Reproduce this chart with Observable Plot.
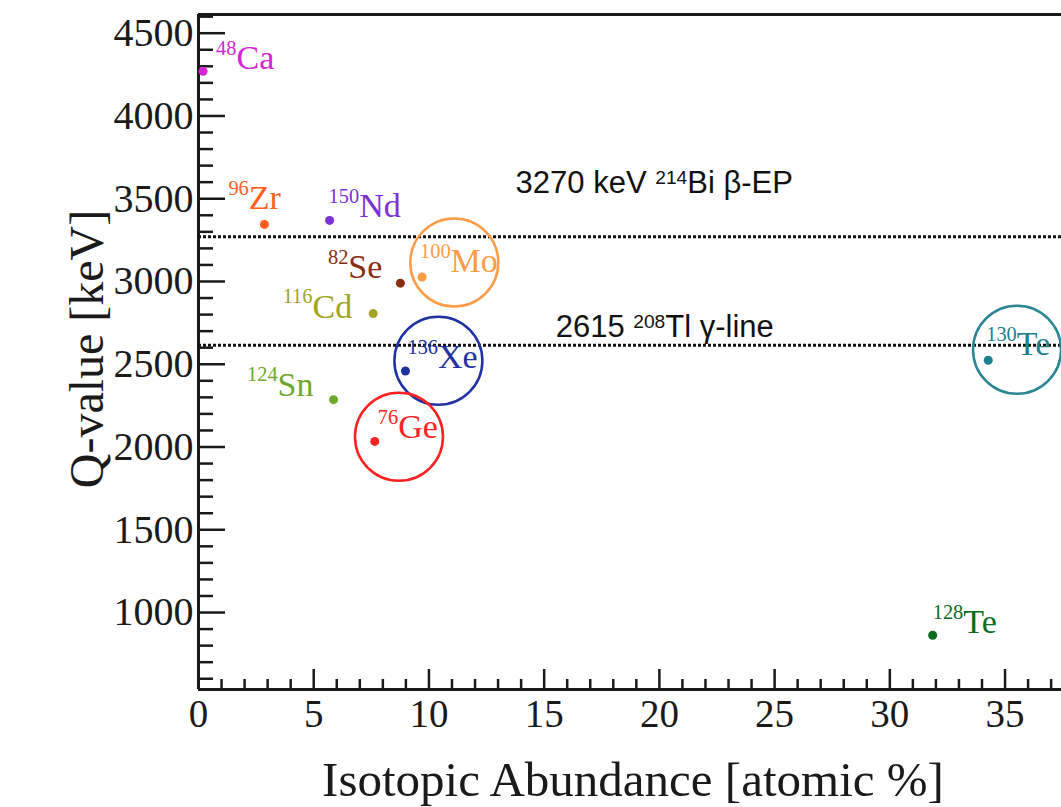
<!DOCTYPE html>
<html><head><meta charset="utf-8">
<script src="https://cdn.jsdelivr.net/npm/d3@7"></script>
<script src="https://cdn.jsdelivr.net/npm/@observablehq/plot@0.6"></script>
<style>html,body{margin:0;padding:0;background:#fff;overflow:hidden}</style>
</head><body><div id="chart"></div>
<script>
// ---- data ----
const massNumbers = [48, 96, 150, 82, 100, 116, 136, 124, 76, 130, 128];
const elements    = ["Ca", "Zr", "Nd", "Se", "Mo", "Cd", "Xe", "Sn", "Ge", "Te", "Te"];
const abundance   = [0.2, 2.86, 5.69, 8.76, 9.7, 7.58, 8.98, 5.86, 7.65, 34.27, 31.86];
const qValue      = [4270, 3345, 3369, 2990, 3027, 2806, 2459, 2286, 2034, 2524, 863];
const colors      = ["#d526d5", "#ff5f1f", "#7a32d6", "#8b2b14", "#ff9b45", "#a3a323", "#1f32a3", "#6ea82e", "#ff2222", "#1f8090", "#0b6b1e"];

const circleNames  = ["Mo", "Xe", "Ge", "Te"];
const circleX      = [11.1, 10.41, 8.7, 35.52];
const circleY      = [3115, 2521, 2062, 2587];
const circleColors = ["#ff9b45", "#1f32a3", "#ff2020", "#2a8595"];

const refLineValues = [3270, 2615];
const refLabels     = ["3270 keV ^214^Bi β-EP", "2615 ^208^Tl γ-line"];
const refLabelX     = [13.76, 15.5];
const refLabelY     = [3532, 2662];

const xMajorTicks = [0, 5, 10, 15, 20, 25, 30, 35];
const yMajorTicks = [1000, 1500, 2000, 2500, 3000, 3500, 4000, 4500];
const xDomain = [0, 37.45];
const yDomain = [535, 4613];

// label layout (pixel offsets)
const labelAnchor = ["start","start","start","end","start","end","start","end","start","start","start"];
const labelDx = [13, -36, -1, -18, -2, -21, 2, -20, 3, -2, 0];
const labelDy = [-2, -15, -3, -5, -5, 4, -3, -4, -3, -5, -2];

// ---- layout ----
const W = 1061, H = 807, mL = 198, mR = 0, mT = 14, mB = 118;
const pxX = (W - mL - mR) / (xDomain[1] - xDomain[0]);
const pxY = (H - mT - mB) / (yDomain[1] - yDomain[0]);

// ---- build ----
const points = massNumbers.map((m, i) => ({label: `^${m}^${elements[i]}`, x: abundance[i], y: qValue[i], color: colors[i]}));
const circles = circleNames.map((n, i) => ({name: n, x: circleX[i], y: circleY[i], color: circleColors[i]}));
const refs = refLabels.map((t, i) => ({text: t, x: refLabelX[i], y: refLabelY[i]}));

const yMinor = d3.range(600, 4601, 100).filter(d => d % 500 !== 0);
const xMinor = d3.range(1, 38).filter(d => d % 5 !== 0);
const axisColor = "#1a1a1a";

const svg = Plot.plot({
  width: W, height: H,
  marginLeft: mL, marginRight: mR, marginTop: mT, marginBottom: mB,
  style: {fontFamily: "'Liberation Serif', 'Times New Roman', serif", background: "#fff", color: axisColor},
  x: {domain: xDomain},
  y: {domain: yDomain},
  marks: [
    // inward tick marks
    Plot.ruleY(yMinor, {x1: xDomain[0], x2: xDomain[0] + 15 / pxX, stroke: axisColor, strokeWidth: 2.5}),
    Plot.ruleY(yMajorTicks, {x1: xDomain[0], x2: xDomain[0] + 27 / pxX, stroke: axisColor, strokeWidth: 2.5}),
    Plot.ruleX(xMinor, {y1: yDomain[0], y2: yDomain[0] + 10 / pxY, stroke: axisColor, strokeWidth: 2.5}),
    Plot.ruleX(xMajorTicks, {y1: yDomain[0], y2: yDomain[0] + 20 / pxY, stroke: axisColor, strokeWidth: 2.5}),
    // tick labels
    Plot.axisY({ticks: yMajorTicks, tickSize: 0, tickPadding: 5, fontSize: 40, label: null, tickFormat: d => String(d)}),
    Plot.axisX({ticks: xMajorTicks, tickSize: 0, tickPadding: 10, fontSize: 39, label: null, tickFormat: d => String(d)}),
    // frame lines
    Plot.ruleX([xDomain[0]], {strokeWidth: 3, stroke: axisColor}),
    Plot.ruleY([yDomain[0]], {strokeWidth: 3, stroke: axisColor}),
    Plot.ruleY([yDomain[1]], {strokeWidth: 3, stroke: axisColor}),
    // reference lines
    Plot.ruleY(refLineValues, {stroke: "#111", strokeWidth: 3, strokeDasharray: "3,2"}),
    Plot.text(refs, {x: "x", y: "y", text: "text", textAnchor: "start", lineAnchor: "bottom", fontSize: 31,
      fontFamily: "'Liberation Sans', Arial, sans-serif", fill: "#111"}),
    // highlight circles
    Plot.dot(circles, {x: "x", y: "y", r: 44, stroke: "color", fill: "none", strokeWidth: 2.5}),
    // points
    Plot.dot(points, {x: "x", y: "y", r: 4.5, fill: "color", stroke: "none"}),
    // isotope labels
    ...points.map((p, i) => Plot.text([p], {x: "x", y: "y", text: "label", fill: "color",
      dx: labelDx[i], dy: labelDy[i], textAnchor: labelAnchor[i], lineAnchor: "bottom", fontSize: 34})),
    // axis titles
    Plot.text(["Q-value [keV]"], {frameAnchor: "left", rotate: -90, dx: -96, dy: -3, textAnchor: "middle", lineAnchor: "bottom", fontSize: 48, fill: axisColor}),
    Plot.text(["Isotopic Abundance [atomic %]"], {frameAnchor: "bottom", dx: 3, dy: 106, textAnchor: "middle", lineAnchor: "bottom", fontSize: 49, fill: axisColor})
  ]
});

// superscript handling: "^NNN^" -> raised smaller tspan
d3.select(svg).selectAll("text").each(function () {
  const t = this.textContent;
  if (!t || !t.includes("^")) return;
  const g = this.closest("g[font-size]");
  const fs = g ? parseFloat(g.getAttribute("font-size")) : 30;
  const sans = g && /Sans/.test(g.getAttribute("font-family") || "");
  const supFs = fs * (sans ? 0.62 : 0.6), raise = fs * (sans ? 0.3 : 0.42);
  const parts = t.split("^");
  const el = d3.select(this);
  el.text(null);
  let shifted = false;
  parts.forEach((p, i) => {
    if (!p) return;
    const ts = el.append("tspan").text(p);
    if (i % 2 === 1) { ts.attr("font-size", supFs).attr("dy", -raise); shifted = true; }
    else if (shifted) { ts.attr("dy", raise); shifted = false; }
  });
});

document.getElementById("chart").appendChild(svg);
</script>
</body></html>
